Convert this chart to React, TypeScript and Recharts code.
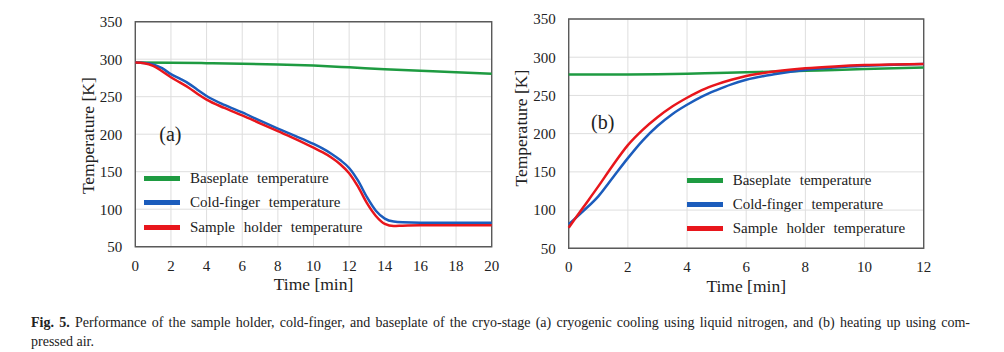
import {
  CartesianGrid,
  Label,
  Legend,
  Line,
  LineChart,
  ReferenceArea,
  XAxis,
  YAxis,
} from "recharts";

// (a) cryogenic cooling
const timeA = [0, 0.5, 1, 1.5, 2, 2.5, 3, 3.5, 4, 5, 6, 7, 8, 9, 10, 10.5, 11, 11.5, 12, 12.5, 13, 13.5, 14, 14.5, 15, 16, 18, 20];
const coldA = [295.5, 295, 293, 288, 280, 274, 267.5, 259, 251, 239, 229, 218, 207.5, 197.5, 187, 181, 174, 165.5, 155, 138, 116, 98, 87.5, 83.5, 82.5, 82, 82, 82];
const sampleA = [295.5, 294.5, 291, 284, 276, 269, 262, 253.5, 246, 235, 225, 214.5, 204, 193.5, 182, 176, 169, 160, 148, 130, 108, 91, 80.5, 77.5, 78, 78.5, 78.5, 78.5];
const baseTimeA = [0, 2, 4, 6, 8, 10, 12, 14, 16, 18, 20];
const baseA = [295.6, 295.3, 294.7, 294, 293, 291.5, 289.2, 286.7, 284.6, 282.5, 280.5];

// (b) heating up with compressed air
const timeB = [0, 0.5, 1, 1.5, 2, 2.5, 3, 3.5, 4, 4.5, 5, 5.5, 6, 7, 8, 9, 10, 11, 12];
const coldB = [81.5, 99, 118, 143, 168, 191, 210, 225.5, 237.8, 248.5, 257, 264.5, 270.5, 278, 283.3, 286.5, 288.7, 290.2, 291.3];
const sampleB = [77, 104, 131, 159, 185, 205, 221.5, 235.5, 247, 257, 264.5, 270.5, 275.5, 281.5, 285.5, 288, 289.7, 290.5, 291];
const baseTimeB = [0, 1, 2, 3, 4, 5, 6, 7, 8, 9, 10, 11, 12];
const baseB = [277.5, 277.3, 277.3, 277.6, 278.3, 279.3, 280.3, 281.2, 282.3, 283.3, 284.5, 285.5, 286.5];

const ticksA = [0, 2, 4, 6, 8, 10, 12, 14, 16, 18, 20];
const ticksB = [0, 2, 4, 6, 8, 10, 12];
const tempTicks = [50, 100, 150, 200, 250, 300, 350];

const seriesNames = ["Baseplate temperature", "Cold-finger temperature", "Sample holder temperature"];
const COLORS = ["#1e9b41", "#1b5cbc", "#e8161c"];
const FONT = "Liberation Serif";
const INK = "#222";

const toPoints = (xs: number[], ys: number[]) => xs.map((t, i) => ({ t, v: ys[i] }));

function LegendBox({ payload }: { payload?: any[] }) {
  return (
    <div style={{ fontFamily: FONT }}>
      {(payload || []).map((p) => (
        <div key={p.value} style={{ display: "flex", alignItems: "center", height: 24.3 }}>
          <div style={{ width: 36, height: 5, background: p.color, marginRight: 10 }} />
          <span style={{ fontFamily: FONT, fontSize: 15, color: INK, wordSpacing: 5, whiteSpace: "nowrap" }}>{p.value}</span>
        </div>
      ))}
    </div>
  );
}

const xTick = (props: any) => (
  <text x={props.x} y={props.y} dy="0.71em" textAnchor="middle" fontSize={15} fontFamily={FONT} fill={INK}>
    {props.payload.value}
  </text>
);

const yTick = (props: any) => (
  <text x={props.x} y={props.y} dy="0.355em" textAnchor="end" fontSize={15} fontFamily={FONT} fill={INK}>
    {props.payload.value}
  </text>
);

const tagLabel = (text: string, dx: number, dy: number) => (props: any) => {
  const vb = props.viewBox;
  return (
    <text x={vb.x + dx} y={vb.y + dy} fontSize={20} fontFamily={FONT} fill={INK}>
      {text}
    </text>
  );
};

const yTitle = (cx: number, dy: number) => (props: any) => {
  const vb = props.viewBox;
  const cy = vb.y + vb.height / 2 + dy;
  return (
    <text
      x={vb.x + cx}
      y={cy}
      transform={`rotate(-90 ${vb.x + cx} ${cy})`}
      textAnchor="middle"
      dominantBaseline="central"
      fontSize={17.5}
      fontFamily={FONT}
      fill={INK}
    >
      Temperature [K]
    </text>
  );
};

const xTitle = (props: any) => {
  const vb = props.viewBox;
  return (
    <text
      x={vb.x + vb.width / 2}
      y={vb.y + 37.5}
      textAnchor="middle"
      dominantBaseline="central"
      fontSize={17.5}
      fontFamily={FONT}
      fill={INK}
    >
      Time [min]
    </text>
  );
};

type PanelProps = {
  tag: string;
  tagPos: [number, number];
  xMax: number;
  xTicks: number[];
  cold: { t: number; v: number }[];
  sample: { t: number; v: number }[];
  base: { t: number; v: number }[];
  width: number;
  margin: { top: number; right: number; bottom: number; left: number };
  yWidth: number;
  yTitleX: number;
  yTitleDy: number;
  xTickMargin: number;
  legendPos: { left: number; top: number };
};

function Panel(p: PanelProps) {
  return (
    <LineChart width={p.width} height={300} margin={p.margin} style={{ fontFamily: FONT }}>
      <CartesianGrid stroke="#dedede" strokeWidth={1} />
      <XAxis
        type="number"
        dataKey="t"
        domain={[0, p.xMax]}
        ticks={p.xTicks}
        interval={0}
        axisLine={false}
        tickLine={false}
        tickSize={0}
        tickMargin={p.xTickMargin}
        tick={xTick}
        height={30}
      >
        <Label content={xTitle} />
      </XAxis>
      <YAxis
        type="number"
        domain={[50, 350]}
        ticks={tempTicks}
        interval={0}
        axisLine={false}
        tickLine={false}
        tickSize={0}
        tickMargin={13}
        tick={yTick}
        width={p.yWidth}
      >
        <Label content={yTitle(p.yTitleX, p.yTitleDy)} />
      </YAxis>
      <Line data={p.base} dataKey="v" name={seriesNames[0]} type="monotone" stroke={COLORS[0]} strokeWidth={2.5} dot={false} isAnimationActive={false} />
      <Line data={p.cold} dataKey="v" name={seriesNames[1]} type="monotone" stroke={COLORS[1]} strokeWidth={2.5} dot={false} isAnimationActive={false} />
      <Line data={p.sample} dataKey="v" name={seriesNames[2]} type="monotone" stroke={COLORS[2]} strokeWidth={2.5} dot={false} isAnimationActive={false} />
      <ReferenceArea x1={0} x2={p.xMax} y1={50} y2={350} fill="none" stroke="#5a5a5a" strokeWidth={1.4} ifOverflow="visible">
        <Label content={tagLabel(p.tag, p.tagPos[0], p.tagPos[1])} />
      </ReferenceArea>
      <Legend
        layout="vertical"
        align="center"
        verticalAlign="middle"
        content={(lp: any) => <LegendBox payload={lp.payload} />}
        wrapperStyle={{ left: p.legendPos.left, top: p.legendPos.top, width: 230, height: 75 }}
      />
    </LineChart>
  );
}

export default function App() {
  return (
    <div style={{ position: "absolute", left: 0, top: 0, width: 1004, height: 352, background: "#fff", fontFamily: FONT }}>
      <div style={{ position: "absolute", left: 0, top: 0 }}>
        <Panel
          tag="(a)"
          tagPos={[24, 119.5]}
          xMax={20}
          xTicks={ticksA}
          cold={toPoints(timeA, coldA)}
          sample={toPoints(timeA, sampleA)}
          base={toPoints(baseTimeA, baseA)}
          width={500}
          margin={{ top: 21.7, right: 8.3, bottom: 23.3, left: 0 }}
          yWidth={135.3}
          yTitleX={88}
          yTitleDy={1.5}
          xTickMargin={14}
          legendPos={{ left: 144, top: 166.3 }}
        />
      </div>
      <div style={{ position: "absolute", left: 500, top: 0 }}>
        <Panel
          tag="(b)"
          tagPos={[22.3, 110]}
          xMax={12}
          xTicks={ticksB}
          cold={toPoints(timeB, coldB)}
          sample={toPoints(timeB, sampleB)}
          base={toPoints(baseTimeB, baseB)}
          width={504}
          margin={{ top: 19, right: 80.3, bottom: 21.7, left: 0 }}
          yWidth={68.7}
          yTitleX={20.7}
          yTitleDy={-5.5}
          xTickMargin={13.5}
          legendPos={{ left: 186.7, top: 168 }}
        />
      </div>
      <div style={{ position: "absolute", left: 31, top: 314.3, width: 939, fontSize: 14, lineHeight: "18.5px", color: INK }}>
        <div style={{ textAlign: "justify", textAlignLast: "justify", whiteSpace: "nowrap" as any }}>
          <b>Fig. 5.</b> Performance of the sample holder, cold-finger, and baseplate of the cryo-stage (a) cryogenic cooling using liquid nitrogen, and (b) heating up using com-
        </div>
        <div>pressed air.</div>
      </div>
    </div>
  );
}
